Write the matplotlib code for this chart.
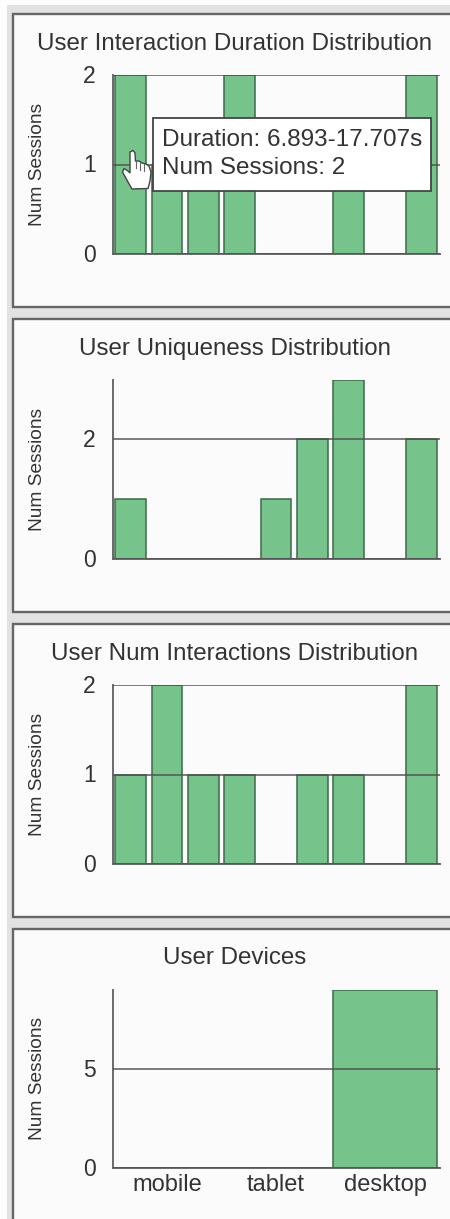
import matplotlib
matplotlib.use("Agg")
import matplotlib.pyplot as plt
from matplotlib.patches import Polygon, Rectangle
from matplotlib.transforms import ScaledTranslation

W, H = 450, 1219

# chart data
titles = [
    "User Interaction Duration Distribution",
    "User Uniqueness Distribution",
    "User Num Interactions Distribution",
    "User Devices",
]
duration_counts = [2, 1, 1, 2, 0, 0, 1, 0, 2]
uniqueness_counts = [1, 0, 0, 0, 1, 2, 3, 0, 2]
interaction_counts = [1, 2, 1, 1, 0, 1, 1, 0, 2]
device_names = ["mobile", "tablet", "desktop"]
device_counts = [0, 0, 9]
y_ticks = [[0, 1, 2], [0, 2], [0, 1, 2], [0, 5]]
tooltip_lines = ["Duration: 6.893-17.707s", "Num Sessions: 2"]

GREEN = "#76c38c"
EDGE = "#3c6a4a"
AXIS = "#6a6a6a"
TEXT = "#333333"

plt.rcParams["font.family"] = ["Liberation Sans", "DejaVu Sans"]

fig = plt.figure(figsize=(W / 100, H / 100), dpi=100, facecolor="#fdfdfd")


def px_axes(x0, y0, x1, y1, **kw):
    # axes from pixel box, y counted from the top of the image
    return fig.add_axes([x0 / W, 1 - y1 / H, (x1 - x0) / W, (y1 - y0) / H], **kw)


# whole-figure layer in pixel coordinates, for panels and labels
bg = px_axes(0, 0, W, H, zorder=0)
bg.set_xlim(0, W)
bg.set_ylim(H, 0)
bg.axis("off")
bg.add_patch(Rectangle((7, 5), W, H, fc="#e2e2e2", ec="none"))

panel_tops = [13.5, 319, 624, 929]
panel_bottoms = [307, 612, 917, 1240]
for top, bottom in zip(panel_tops, panel_bottoms):
    bg.add_patch(Rectangle((13, top), W, bottom - top, fc="#fbfbfb", ec="#666666", lw=1.7))

plot_boxes = [(75, 254), (379.5, 559), (685, 864), (989.5, 1168)]
title_y = [44, 349, 653.5, 958.5]
series = [duration_counts, uniqueness_counts, interaction_counts, device_counts]
y_max = [2, 3, 2, 9]
bar_width = [0.85, 0.85, 0.85, 0.945]
label_shift = ScaledTranslation(0, 1 / 100, fig.dpi_scale_trans)

for i, (top, bottom) in enumerate(plot_boxes):
    ax = px_axes(112.5, top, 439.5, bottom, zorder=1)
    ax.patch.set_alpha(0)
    values = series[i]
    xs = list(range(len(values)))
    ax.set_xlim(-0.5, len(values) - 0.5)
    ax.set_ylim(0, y_max[i])
    ax.bar(xs, values, width=bar_width[i], color=GREEN, edgecolor=EDGE, linewidth=1.1, zorder=2)
    # grid shows through the bars in the original
    ax.grid(axis="y", color="#4f4f4f", alpha=0.8, lw=1.3, zorder=3)
    ax.set_axisbelow(False)
    for s in ("top", "right"):
        ax.spines[s].set_visible(False)
    for s in ("left", "bottom"):
        ax.spines[s].set_color(AXIS)
        ax.spines[s].set_linewidth(1.4)
    ax.set_yticks(y_ticks[i])
    ax.tick_params(axis="y", length=0, labelsize=16.5, labelcolor=TEXT, pad=12)
    for lab in ax.get_yticklabels():
        lab.set_transform(lab.get_transform() + label_shift)
    if i == 3:
        ax.set_xticks(xs, device_names)
        ax.tick_params(axis="x", length=0, labelsize=17, labelcolor=TEXT, pad=4)
    else:
        ax.set_xticks([])
    bg.text(38, (top + bottom) / 2, "Num Sessions", rotation=90, ha="center", va="center",
            fontsize=13.8, color=TEXT)
    bg.text(235, title_y[i], titles[i], ha="center", va="center", fontsize=17.4, color=TEXT)

# tooltip and hand cursor sit on top of everything
top_ax = px_axes(0, 0, W, H, zorder=5)
top_ax.set_xlim(0, W)
top_ax.set_ylim(H, 0)
top_ax.axis("off")
top_ax.add_patch(Rectangle((152.5, 117.5), 278, 73, fc="white", ec="#444444", lw=1.3))
top_ax.text(162, 139.5, tooltip_lines[0], va="center", fontsize=17.5, color=TEXT)
top_ax.text(162, 168, tooltip_lines[1], va="center", fontsize=17.5, color=TEXT)

hand = [(130, 152), (133, 150.5), (135, 153), (135.5, 161), (139, 161), (142, 163), (146, 164),
        (149, 166), (151, 172), (150, 181), (148, 188.5), (132, 189), (128, 182), (122.5, 172),
        (124, 168.5), (128, 171), (130, 173)]
top_ax.add_patch(Polygon(hand, closed=True, fc="white", ec="#444444", lw=1.0))
for fx, fy in [(135.5, 161), (139.5, 162.5), (144, 164)]:
    top_ax.plot([fx, fx], [fy, fy + 7], color="#666666", lw=0.8)

fig.savefig("out.png", dpi=100, facecolor=fig.get_facecolor())
